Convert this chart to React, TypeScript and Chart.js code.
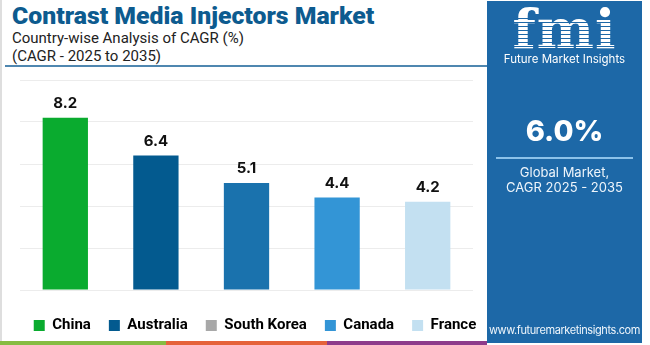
import React, { useEffect, useRef } from "react";
import { Chart, registerables } from "chart.js";

Chart.register(...registerables);

const categories = ["China", "Australia", "South Korea", "Canada", "France"];
const cagrValues = [8.2, 6.4, 5.1, 4.4, 4.2];
const barColors = ["#0aab2f", "#035a8f", "#1a72ad", "#3395d6", "#c3e0f1"];
const legendColors = ["#0aab2f", "#035a8f", "#a8a8a8", "#3395d6", "#c3e0f1"];
const yTicks = [0, 2, 4, 6, 8, 10];

const FONT = "Inter, Roboto, 'Open Sans', sans-serif";
const LEGEND_FONT = "Roboto, Inter, sans-serif";

const valueLabelPlugin = {
  id: "valueLabels",
  afterDatasetsDraw(chart: any) {
    const ctx = chart.ctx;
    const meta = chart.getDatasetMeta(0);
    ctx.save();
    ctx.font = `700 15px ${FONT}`;
    ctx.fillStyle = "#111111";
    ctx.textAlign = "center";
    ctx.textBaseline = "bottom";
    meta.data.forEach((bar: any, i: number) => {
      ctx.fillText(cagrValues[i].toFixed(1), bar.x, bar.y - 7);
    });
    ctx.restore();
  },
};

export default function App() {
  const canvasRef = useRef<HTMLCanvasElement | null>(null);

  useEffect(() => {
    if (!canvasRef.current) return;
    const chart = new Chart(canvasRef.current, {
      type: "bar",
      data: {
        labels: categories,
        datasets: [
          {
            label: "CAGR",
            data: cagrValues,
            backgroundColor: barColors,
            borderWidth: 0,
            barPercentage: 0.5,
            categoryPercentage: 1,
          },
        ],
      },
      options: {
        animation: false,
        responsive: false,
        maintainAspectRatio: false,
        layout: { padding: { left: 0, right: 0, top: 12, bottom: 0 } },
        scales: {
          x: {
            display: true,
            ticks: { display: false },
            grid: { display: false },
            border: { display: false },
            afterFit: (s: any) => {
              s.height = 10;
            },
          },
          y: {
            min: 0,
            max: 10,
            afterBuildTicks: (scale: any) => {
              scale.ticks = yTicks.map((v) => ({ value: v }));
            },
            ticks: { display: false },
            grid: { color: "#ececec", drawTicks: false, lineWidth: 1 },
            border: { display: false },
            afterFit: (s: any) => {
              s.width = 20;
            },
          },
          yRight: {
            position: "right",
            display: true,
            ticks: { display: false },
            grid: { display: false, drawTicks: false },
            border: { display: false },
            afterFit: (s: any) => {
              s.width = 37;
            },
          },
        },
        plugins: {
          tooltip: { enabled: false },
          legend: {
            position: "bottom",
            labels: {
              boxWidth: 11,
              boxHeight: 11,
              padding: 18,
              color: "#111111",
              font: { family: LEGEND_FONT, size: 15, weight: "bold" },
              generateLabels: () =>
                categories.map((c, i) => ({
                  text: c,
                  fillStyle: legendColors[i],
                  strokeStyle: legendColors[i],
                  lineWidth: 0,
                  hidden: false,
                  index: i,
                })),
            },
          },
        },
      },
      plugins: [valueLabelPlugin],
    });
    return () => chart.destroy();
  }, []);

  return (
    <div
      style={{
        position: "fixed",
        left: 0,
        top: 0,
        width: 650,
        height: 345,
        background: "#ffffff",
        overflow: "hidden",
        fontFamily: FONT,
      }}
    >
      <div style={{ position: "absolute", left: 0, top: 0, width: 2, height: 341, background: "#dedede" }} />
      <div
        style={{
          position: "absolute",
          left: 12,
          top: 1,
          fontFamily: "Roboto, sans-serif",
          fontSize: 24.8,
          fontWeight: 900,
          color: "#0d5b8f",
          whiteSpace: "nowrap",
        }}
      >
        Contrast Media Injectors Market
      </div>
      <div
        style={{
          position: "absolute",
          left: 12,
          top: 29,
          fontFamily: "Roboto, sans-serif",
          fontSize: 15,
          color: "#222",
          whiteSpace: "nowrap",
        }}
      >
        Country-wise Analysis of CAGR (%)
      </div>
      <div
        style={{
          position: "absolute",
          left: 12,
          top: 47,
          fontFamily: "Roboto, sans-serif",
          fontSize: 15,
          color: "#222",
          whiteSpace: "nowrap",
        }}
      >
        (CAGR - 2025 to 2035)
      </div>
      <div style={{ position: "absolute", left: 5, top: 65, width: 482, height: 2, background: "#4f87b0" }} />

      <canvas
        ref={canvasRef}
        width={510}
        height={275}
        style={{ position: "absolute", left: 0, top: 68, width: 510, height: 275 }}
      />

      <div style={{ position: "absolute", left: 487, top: 1, width: 155, height: 342, background: "#1d68a7" }}>
        <div
          style={{
            position: "absolute",
            left: 0,
            top: 1,
            width: 155,
            textAlign: "center",
            fontFamily: "'DejaVu Serif', serif",
            fontWeight: 700,
            fontSize: 54,
            lineHeight: "54px",
            letterSpacing: 1,
            color: "#ffffff",
          }}
        >
          fmi
        </div>
        <div
          style={{
            position: "absolute",
            left: 18,
            top: 14,
            width: 120,
            height: 32,
            background:
              "repeating-linear-gradient(to bottom, rgba(29,104,167,0) 0px, rgba(29,104,167,0) 3px, #1d68a7 3px, #1d68a7 4px)",
          }}
        />
        <div
          style={{
            position: "absolute",
            left: 0,
            top: 51,
            width: 155,
            textAlign: "center",
            fontSize: 11.5,
            color: "#ffffff",
            whiteSpace: "nowrap",
          }}
        >
          Future Market Insights
        </div>
        <div
          style={{
            position: "absolute",
            left: 0,
            top: 112,
            width: 155,
            textAlign: "center",
            fontSize: 29,
            lineHeight: "36px",
            fontWeight: 800,
            color: "#ffffff",
          }}
        >
          6.0%
        </div>
        <div style={{ position: "absolute", left: 9, top: 156, width: 137, height: 2, background: "#8cc2ea" }} />
        <div
          style={{
            position: "absolute",
            left: 0,
            top: 164,
            width: 155,
            textAlign: "center",
            fontSize: 13,
            lineHeight: "15px",
            color: "#eef5fb",
          }}
        >
          Global Market,
          <br />
          CAGR 2025 - 2035
        </div>
        <div
          style={{
            position: "absolute",
            left: 0,
            top: 322,
            width: 155,
            textAlign: "center",
            fontSize: 11,
            color: "#eef5fb",
            whiteSpace: "nowrap",
            letterSpacing: -0.4,
          }}
        >
          www.futuremarketinsights.com
        </div>
      </div>

      <div style={{ position: "absolute", left: 0, top: 341, width: 166, height: 4, background: "#86bc42" }} />
      <div style={{ position: "absolute", left: 166, top: 341, width: 161, height: 4, background: "#e5623a" }} />
      <div style={{ position: "absolute", left: 327, top: 341, width: 160, height: 4, background: "#8e3b8b" }} />
    </div>
  );
}
